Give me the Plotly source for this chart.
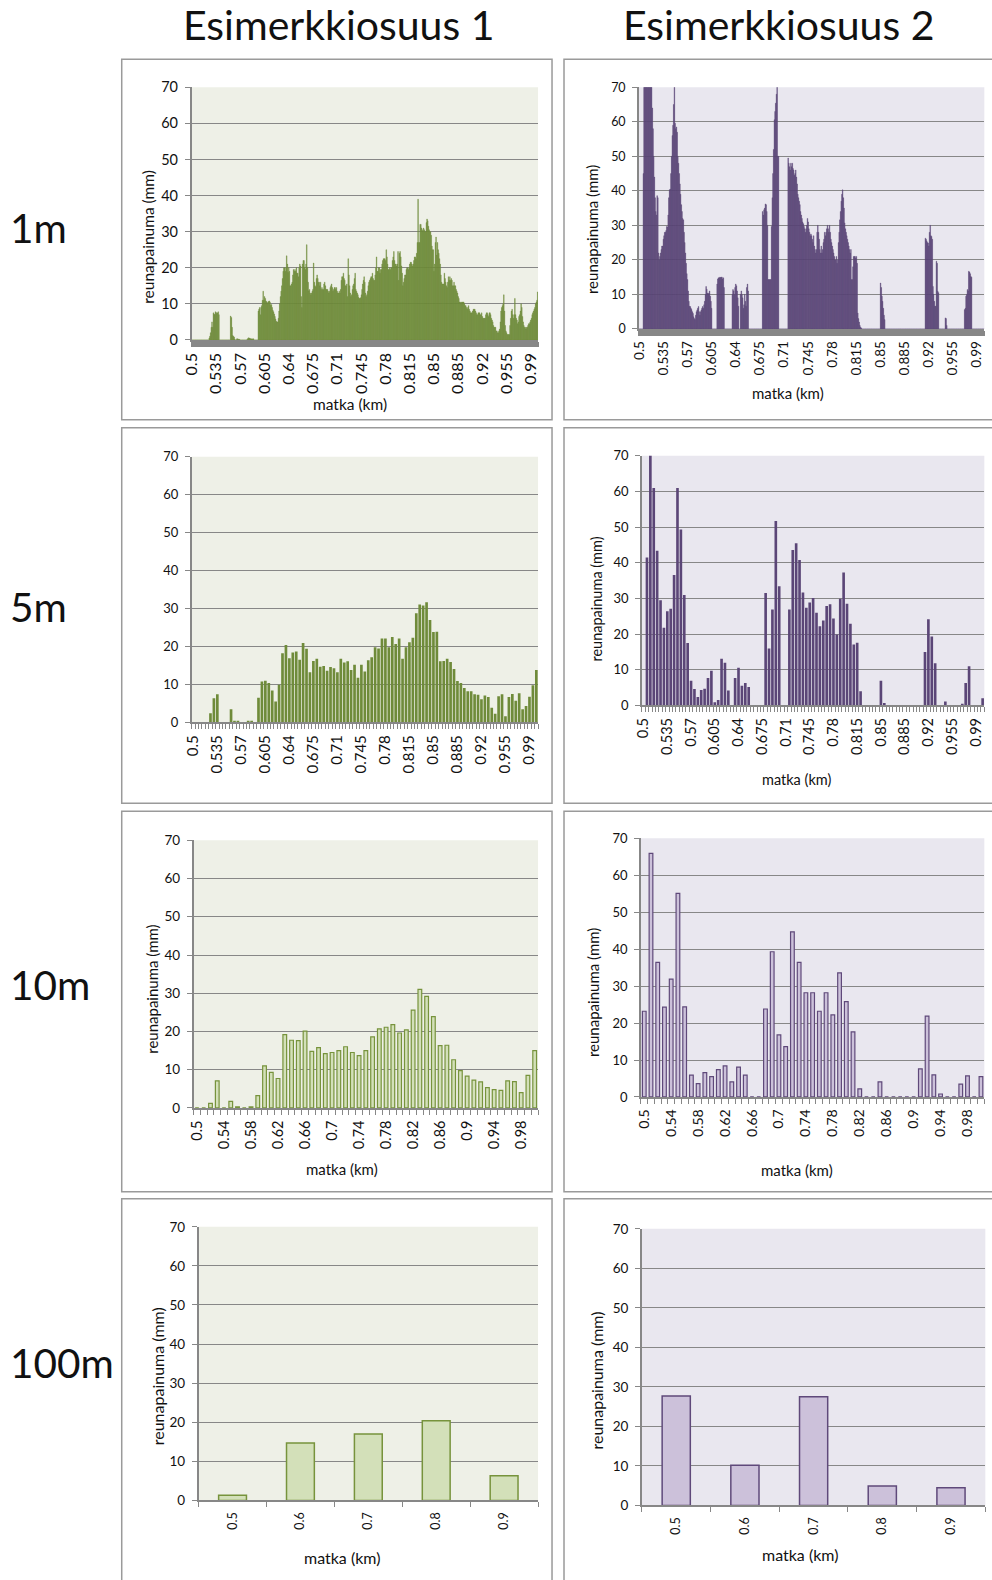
import numpy as np
import plotly.graph_objects as go

W, H = 992, 1580

# ---------------- data (reunapainuma, mm) ----------------
# Esimerkkiosuus 1, 1 m sampling (0.500 ... 1.000 km)
edge1_1m = [
    0, 0, 0, 0, 0, 0, 0, 0, 0, 0,
    0, 0, 0, 0, 0, 0, 0, 0, 0, 0,
    0, 0, 0, 0, 0, 0.5, 1, 2, 3.5, 5,
    3.5, 7.5, 7.2, 7.0, 7.8, 7.6, 7.3, 7.5, 7.8, 7.0,
    0, 0, 0, 0, 0, 0, 0, 0, 0, 0,
    0, 0, 0, 0, 0, 0, 6.6, 6.2, 3.5, 1.2,
    1.0, 0.8, 0.2, 0, 0, 0.3, 0.3, 0.2, 0.2, 0.1,
    0, 0, 0, 0, 0, 0, 0, 0, 0, 0,
    0.2, 0.4, 0.6, 0.5, 0.4, 0.3, 0.3, 0.2, 0.3, 0.3,
    0, 0, 0, 0, 0, 0, 8, 8.5, 9, 7,
    9, 9.5, 11, 13.5, 11, 12, 11.5, 10.8, 10.6, 10.1,
    10.5, 10.7, 10.8, 10.4, 9.6, 9.8, 9.0, 8.2, 7.8, 7.2,
    6.5, 5.8, 5.2, 5.0, 5.0, 6, 8, 10, 12, 13.5,
    15, 17, 19, 20, 20, 19, 20, 23.3, 21, 18.7,
    20, 19, 15, 15, 15.5, 16, 18, 19.5, 19, 19.5,
    19, 20, 18.5, 18.5, 17.5, 20, 21, 20.5, 12, 9,
    21, 22, 22, 20, 19.5, 21, 26.4, 20, 16, 13.6,
    14, 13, 12.5, 13, 13.5, 14, 21.3, 16, 15, 14.7,
    17, 18, 17, 16, 16, 15, 16, 14, 14.5, 14,
    14, 15.5, 16, 15, 14, 14, 14, 13.5, 13, 13.5,
    14.5, 15, 15.5, 14.5, 13.5, 14, 14.5, 14.5, 14, 14.5,
    13.5, 13, 13, 13.5, 13, 14, 16.5, 17.5, 17.5, 18.5,
    17, 16.5, 15, 15, 15.5, 12, 22.5, 18, 15, 13,
    12, 12.5, 14, 15, 15.5, 17, 18.5, 14, 13.5, 13,
    12.5, 11.8, 11.5, 11.5, 11.7, 12.5, 14, 15.5, 16.5, 17.5,
    16, 13, 12, 12.5, 13.5, 15, 16, 16.5, 17, 17.5,
    17.5, 18.5, 17, 16.5, 16.5, 18, 20, 23, 19, 19,
    20, 20, 18.5, 19.5, 19.5, 21, 22, 22.5, 22.5, 22.5,
    22, 25, 23, 21, 19.5, 19.5, 20, 19.5, 20, 20,
    22, 23, 24.5, 22, 21, 21, 20.5, 21, 24.5, 16.5,
    24, 24.5, 23, 20.5, 18.5, 15, 16, 17, 18, 18,
    19.5, 20, 20, 19.5, 20, 21, 21.5, 21.5, 21, 20.5,
    21, 22, 23, 23, 22.5, 24, 27, 39, 27, 27,
    32, 32, 31, 30.5, 30, 31, 30.5, 30, 30, 32.5,
    33.5, 33, 31.5, 30.5, 30, 30, 29, 26, 25, 25,
    19, 21, 27, 28.5, 23.5, 27, 25, 24, 22.5, 21,
    18, 16, 15.5, 15.5, 15.5, 18.5, 17, 16, 15, 14.5,
    16, 17.5, 16.5, 17.5, 16.5, 17, 16.5, 15, 15, 16,
    15, 15, 14, 13.5, 13, 12, 11.5, 10.5, 10.5, 10,
    10.5, 10.5, 10.5, 10.5, 10, 9.5, 9.5, 9, 8.5, 9,
    9.5, 8.5, 8, 7.5, 7.5, 7.5, 8, 8.5, 8.5, 8.5,
    8, 7.5, 7, 7, 7.5, 7.5, 7.5, 7, 7, 7.5,
    6.5, 6, 6, 6, 6, 7, 7.5, 7.5, 7, 6.5,
    7.5, 7.5, 7, 6, 5.5, 5, 4, 3.5, 3.5, 3.5,
    2.5, 2.5, 2, 2, 2.5, 3, 5, 8, 9, 9.5,
    10, 12.5, 8, 4, 2.5, 2, 1.5, 1.5, 1.5, 1.5,
    4, 6, 8, 8.5, 7, 6, 7, 11.5, 7, 6,
    5.5, 4.5, 5, 6.5, 7, 8, 10, 9, 6.5, 5,
    4, 3.5, 3.5, 3, 3.5, 3.5, 4, 4.5, 4.5, 5,
    5.5, 6, 7, 7.5, 8, 8.5, 9, 10, 10.5, 11,
    13.3,
]

# Esimerkkiosuus 2, 1 m sampling
edge2_1m = [
    0, 0, 0, 0, 0, 0, 45, 72, 75, 76,
    78, 80, 78, 76, 75, 74, 73, 72, 72, 64,
    58, 50, 44, 38, 34, 33, 38.6, 38, 22, 20,
    21, 22, 23, 24, 24, 26, 27, 28, 28, 28.5,
    29.7, 29.5, 33, 38, 40.3, 40.5, 45, 50, 56, 59,
    65, 75, 59.6, 58, 58.5, 57, 50, 48, 45, 42,
    39, 36, 34, 32, 31.6, 28, 25, 22, 19, 16,
    14.3, 11, 8, 6.6, 6.5, 6, 5.6, 5, 4.5, 3.5,
    3, 2.7, 4, 5, 5.5, 6, 6.5, 5, 4, 5,
    5.5, 6, 6.5, 6, 7, 8, 10, 12.3, 11.5, 10.4,
    10, 10.4, 11, 9.5, 8, 6, 0, 0, 0, 0,
    0, 0, 0, 13, 14.5, 14.8, 14.8, 15, 14.9, 15,
    15, 14.5, 14.8, 12, 0, 0, 0, 0, 0, 0,
    0, 0, 0, 0, 0, 10, 11.4, 11, 10, 12,
    13, 12.5, 11, 9, 6.6, 0, 0, 10, 11, 10,
    9, 6, 7, 10, 8, 6.6, 12, 13, 11, 0,
    0, 0, 0, 0, 0, 0, 0, 0, 0, 0,
    0, 0, 0, 0, 0, 0, 0, 0, 0, 34,
    33, 34.5, 35, 36.2, 36, 34, 30, 14.3, 14.3, 14.3,
    14.3, 14.3, 29.7, 38, 45, 52, 60.6, 63, 65.4, 68,
    76, 50, 50, 0, 0, 0, 0, 0, 0, 0,
    0, 0, 0, 0, 0, 0, 49.5, 48, 47, 46,
    48, 47, 48, 46.5, 46, 44.5, 45, 46, 44, 42,
    39, 38, 37, 36, 34, 33, 32, 31, 30.5, 29.7,
    29, 28, 29, 30, 32, 31, 29, 28, 27, 27.5,
    27, 26, 25, 27, 24, 23, 22, 23, 28, 30,
    28, 26, 23, 22, 24, 22, 23, 25, 26, 28,
    27, 28, 29, 30, 29, 28, 30, 28, 26, 25,
    24, 23, 22, 21, 20, 20, 21, 19, 20, 25,
    28, 31.6, 34, 37, 39, 40.3, 38, 35, 30.7, 29,
    28, 27, 26, 25, 24, 23, 22, 23, 14.3, 14.3,
    18, 21, 21, 21, 20.5, 21, 19, 4.6, 3, 2,
    1, 0.5, 0.3, 0, 0, 0, 0, 0, 0, 0,
    0, 0, 0, 0, 0, 0, 0, 0, 0, 0,
    0, 0, 0, 0, 0, 0, 0, 0, 0, 0,
    13.3, 12, 9.5, 8, 6, 4, 2.7, 0, 0, 0,
    0, 0, 0, 0, 0, 0, 0, 0, 0, 0,
    0, 0, 0, 0, 0, 0, 0, 0, 0, 0,
    0, 0, 0, 0, 0, 0, 0, 0, 0, 0,
    0, 0, 0, 0, 0, 0, 0, 0, 0, 0,
    0, 0, 0, 0, 0, 0, 0, 0, 0, 0,
    0, 0, 0, 0, 0, 26.3, 26, 25.5, 25, 24.9,
    24, 28, 30, 27, 26.8, 26, 12.3, 10, 8, 6.6,
    6.6, 19.6, 19, 10.9, 10.5, 0, 0, 0, 0, 0,
    0, 0, 0, 0, 3.2, 3, 1, 0, 0, 0,
    0, 0, 0, 0, 0, 0, 0, 0, 0, 0,
    0, 0, 0, 0, 0, 0, 0, 0, 0, 0,
    0, 0, 5.6, 6, 9.5, 10, 11.4, 11, 16.7, 16.5,
    16, 15.2, 15, 0, 0, 0, 0, 0, 0, 0,
    0, 0, 0, 0, 0, 0, 0, 0, 0, 0,
    0,
]

# 5 m sampling (0.500 ... 1.000 km)
edge1_5m = [
    0, 0, 0, 0, 0, 2.4, 6.4, 7.4, 0, 0,
    0, 3.5, 0.4, 0.2, 0, 0, 0.3, 0.3, 0, 6.5,
    10.8, 11, 10.4, 8.4, 5.5, 9.9, 18.2, 20.4, 16.9, 18.4,
    18.7, 16.5, 20.9, 19.4, 13.2, 16.2, 16.8, 14.7, 14.9, 13.6,
    14.6, 14.3, 13.2, 16.8, 15.8, 16.1, 13.8, 15.2, 11.8, 15.2,
    13.4, 16.4, 17.2, 19.8, 19.5, 22.1, 22.1, 19.8, 22.5, 20.7,
    22.1, 16.8, 19.8, 21.1, 22.3, 28.8, 31.1, 30.8, 31.7, 27,
    23.8, 23.9, 16.1, 16.2, 16.8, 15.9, 14.1, 10.9, 10.4, 9.1,
    8.2, 8.2, 7.4, 7.3, 6.1, 7.1, 6.7, 3.9, 2.3, 6.9,
    7.4, 1.6, 6.7, 7.5, 5.7, 7.7, 3.5, 4.3, 6.8, 9.8,
    13.8,
]
edge2_5m = [
    0, 41.5, 72, 61, 43.4, 29.5, 21.8, 26.4, 27.1, 36.6,
    61, 49.3, 31, 17.5, 6.9, 4.6, 2.4, 4.3, 4.7, 7.7,
    9.7, 0.9, 1.5, 13.1, 12, 4.2, 0, 7.7, 10.6, 5.5,
    6.3, 5.2, 0, 0, 0, 0, 31.5, 16, 26.9, 51.7,
    33.4, 0, 0, 26.9, 43.6, 45.5, 40.8, 31.7, 27.4, 28.9,
    30.1, 26, 22.2, 23.8, 27.9, 28.4, 24.4, 19.9, 29.9, 37.3,
    28.5, 22.9, 17.1, 17.6, 4, 0, 0, 0, 0, 0,
    6.9, 0.7, 0, 0, 0, 0, 0, 0, 0, 0,
    0, 0, 0, 15, 24.2, 19.3, 11.8, 0, 0, 1.1,
    0, 0, 0, 0, 0.2, 6.3, 11, 0, 0, 0,
    2,
]

# 10 m sampling (0.50 ... 1.00 km)
edge1_10m = [
    0, 0, 1.2, 7.1, 0, 1.7, 0.3, 0, 0.26, 3.2,
    11, 9.3, 7.7, 19.2, 17.7, 17.6, 20.1, 14.8, 15.8, 14.2,
    14.5, 15, 16, 14.5, 13.7, 15, 18.6, 20.7, 21.1, 21.8,
    19.6, 20.4, 25.6, 31, 29.2, 23.9, 16.3, 16.4, 12.6, 9.75,
    8.3, 7.3, 6.8, 5.3, 4.8, 4.6, 7.1, 6.9, 4, 8.5,
    15,
]
edge2_10m = [
    23.2, 65.9, 36.4, 24.3, 31.9, 55.1, 24.4, 5.9, 3.6, 6.6,
    5.5, 7.4, 8.4, 4.1, 8.1, 5.9, 0, 0, 23.8, 39.3,
    16.8, 13.6, 44.7, 36.4, 28.2, 28.2, 23.2, 28.2, 22.2, 33.6,
    25.8, 17.6, 2.2, 0, 0, 4.1, 0, 0, 0, 0,
    0, 7.6, 21.9, 6, 0.8, 0, 0, 3.5, 5.7, 0,
    5.5,
]

# 100 m sampling
km_100m = [0.5, 0.6, 0.7, 0.8, 0.9]
edge1_100m = [1.3, 14.7, 17.0, 20.4, 6.3]
edge2_100m = [27.7, 10.2, 27.5, 4.9, 4.5]

col_titles = ["Esimerkkiosuus 1", "Esimerkkiosuus 2"]
row_titles = ["1m", "5m", "10m", "100m"]
y_title = "reunapainuma (mm)"
x_title = "matka (km)"

# ---------------- styling ----------------
FONT = "Lato, 'Open Sans', sans-serif"
TXT = "#111111"
G_DARK = "#6F8B3A"
G_LINE = "#77933C"
G_FILL = "#D3E0B9"
P_DARK = "#5B4677"
P_LINE = "#5F497A"
P_FILL = "#CCC1DA"
BG_L = "#EEF0E7"
BG_R = "#E9E7EF"
GRID = "#878787"
BOX = "#9A9A9A"

# the rendered page shows the paper slightly inset; compensate so that
# positions given below are final page pixels
OX, OY, SC = 9.1, 8.65, 0.9905


def km_axis(n, step):
    return np.round(0.5 + step * np.arange(n), 3)


def px_x(x):
    return (x - OX) / SC / W


def px_y(y):
    return 1 - (y - OY) / SC / H


panels = [
    dict(v=edge1_1m, step=0.001, frac=1.0, fill=G_DARK, line=G_DARK, lw=0.35, bg=BG_L,
         rect=(191, 87, 538, 340), dtick=0.035, xf=16, yf=14.5, tt=15.5,
         yt=(147, 237), xt=(350, 404)),
    dict(v=edge2_1m, step=0.001, frac=1.0, fill=P_DARK, line=P_DARK, lw=0.35, bg=BG_R,
         rect=(639, 87, 985, 329), dtick=0.035, xf=13.5, yf=12.5, tt=15,
         yt=(592, 229), xt=(788, 393)),
    dict(v=edge1_5m, step=0.005, frac=0.78, fill=G_DARK, line=G_DARK, lw=0, bg=BG_L,
         rect=(191, 457, 538, 723), dtick=0.035, xf=15, yf=13, tt=14,
         yt=None, xt=None),
    dict(v=edge2_5m, step=0.005, frac=0.78, fill=P_DARK, line=P_DARK, lw=0, bg=BG_R,
         rect=(642, 456, 985, 706), dtick=0.035, xf=14.5, yf=13, tt=14.5,
         yt=(597, 599), xt=(797, 780)),
    dict(v=edge1_10m, step=0.01, frac=0.55, fill=G_FILL, line=G_LINE, lw=1.2, bg=BG_L,
         rect=(193, 841, 538, 1109), dtick=0.04, xf=14.5, yf=13.5, tt=15,
         yt=(151, 990), xt=(342, 1170)),
    dict(v=edge2_10m, step=0.01, frac=0.55, fill=P_FILL, line=P_LINE, lw=1.2, bg=BG_R,
         rect=(641, 839, 985, 1098), dtick=0.04, xf=14, yf=13, tt=15,
         yt=(593, 993), xt=(797, 1171)),
    dict(v=edge1_100m, step=0.1, frac=0.41, fill=G_FILL, line=G_LINE, lw=1.5, bg=BG_L,
         rect=(198, 1228, 538, 1502), dtick=0.1, xf=12.5, yf=13.5, tt=16,
         yt=(157, 1378), xt=(342, 1559)),
    dict(v=edge2_100m, step=0.1, frac=0.41, fill=P_FILL, line=P_LINE, lw=1.5, bg=BG_R,
         rect=(642, 1230, 986, 1507), dtick=0.1, xf=12.5, yf=13.5, tt=16,
         yt=(597, 1382), xt=(800, 1556)),
]

fig = go.Figure()
layout = dict(
    width=W, height=H, margin=dict(l=0, r=0, t=0, b=0),
    paper_bgcolor="white", plot_bgcolor="white", showlegend=False,
    font=dict(family=FONT, color=TXT),
    shapes=[], annotations=[],
)

for i, p in enumerate(panels):
    n = i + 1
    sfx = "" if n == 1 else str(n)
    xs = km_100m if p["step"] == 0.1 else km_axis(len(p["v"]), p["step"])
    fig.add_trace(go.Bar(
        x=xs, y=p["v"], width=p["step"] * p["frac"],
        marker=dict(color=p["fill"], line=dict(color=p["line"], width=p["lw"])),
        xaxis=f"x{sfx}", yaxis=f"y{sfx}", hoverinfo="x+y",
    ))
    l, t, r, b = p["rect"]
    lo = float(xs[0]) - p["step"] / 2
    hi = float(xs[-1]) + p["step"] / 2
    layout[f"xaxis{sfx}"] = dict(
        domain=[px_x(l), px_x(r)], anchor=f"y{sfx}", range=[lo, hi],
        tickmode="linear", tick0=0.5, dtick=p["dtick"],
        ticks="outside", ticklen=5, tickcolor="rgba(0,0,0,0)",
        tickangle=-90, tickfont=dict(size=p["xf"], family=FONT, color=TXT),
        showline=True, linecolor=GRID, linewidth=1.5,
        showgrid=False, zeroline=False, fixedrange=True,
        minor=dict(ticks="outside", ticklen=5, tickcolor=GRID, tickwidth=1,
                   tick0=0.5 - p["step"] / 2, dtick=p["step"], showgrid=False),
    )
    layout[f"yaxis{sfx}"] = dict(
        domain=[px_y(b), px_y(t)], anchor=f"x{sfx}", range=[0, 70],
        tickmode="linear", tick0=0, dtick=10,
        ticks="outside", ticklen=5, tickcolor=GRID, ticklabelstandoff=4,
        tickfont=dict(size=p["yf"], family=FONT, color=TXT),
        showline=True, linecolor=GRID, linewidth=1.5,
        showgrid=True, gridcolor=GRID, gridwidth=1.4, zeroline=False, fixedrange=True,
    )
    layout["shapes"].append(dict(
        type="rect", xref=f"x{sfx} domain", yref=f"y{sfx} domain", x0=0, x1=1, y0=0, y1=1,
        fillcolor=p["bg"], line=dict(width=0), layer="below"))
    if p["yt"]:
        layout["annotations"].append(dict(
            x=px_x(p["yt"][0]), y=px_y(p["yt"][1]), xref="paper", yref="paper",
            text=y_title, textangle=-90, showarrow=False, xanchor="center", yanchor="middle",
            font=dict(size=p["tt"], family=FONT, color=TXT)))
    if p["xt"]:
        layout["annotations"].append(dict(
            x=px_x(p["xt"][0]), y=px_y(p["xt"][1]), xref="paper", yref="paper",
            text=x_title, showarrow=False, xanchor="center", yanchor="middle",
            font=dict(size=p["tt"], family=FONT, color=TXT)))

boxes = [(121, 59, 552, 420), (564, 59, 1000, 420),
         (121, 428, 552, 804), (564, 428, 1000, 804),
         (121, 812, 552, 1193), (564, 812, 1000, 1193),
         (121, 1200, 552, 1600), (564, 1200, 1000, 1600)]
for (l, t, r, b) in boxes:
    layout["shapes"].append(dict(
        type="rect", xref="paper", yref="paper",
        x0=px_x(l), x1=px_x(r), y0=px_y(b), y1=px_y(t),
        line=dict(color=BOX, width=1.5), fillcolor="rgba(0,0,0,0)", layer="below"))

for txt, cx in zip(col_titles, [338, 779]):
    layout["annotations"].append(dict(
        x=px_x(cx), y=px_y(24), xref="paper", yref="paper", text=txt, showarrow=False,
        xanchor="center", yanchor="middle", font=dict(size=41, family=FONT, color=TXT)))
for txt, cy in zip(row_titles, [227.5, 606.5, 985.5, 1363.5]):
    layout["annotations"].append(dict(
        x=px_x(7), y=px_y(cy), xref="paper", yref="paper", text=txt, showarrow=False,
        xanchor="left", yanchor="middle", font=dict(size=40.5, family=FONT, color=TXT)))

fig.update_layout(**layout)
fig.write_html("out.html")
